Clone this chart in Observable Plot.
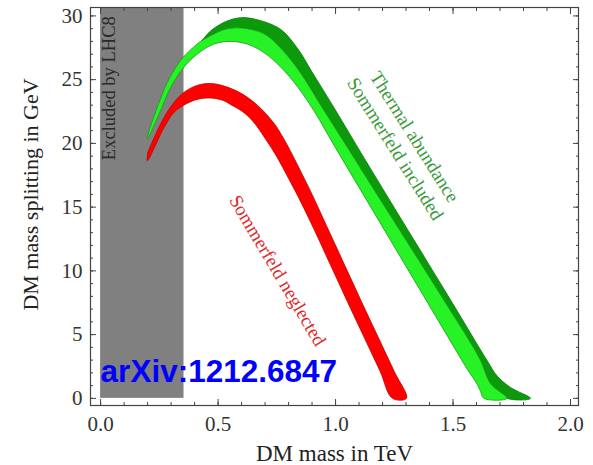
<!DOCTYPE html>
<html><head><meta charset="utf-8">
<script src="https://cdn.jsdelivr.net/npm/d3@7"></script>
<script src="https://cdn.jsdelivr.net/npm/@observablehq/plot@0.6"></script>
<style>
html,body{margin:0;padding:0;background:#fff;}
svg{display:block;}
</style></head><body><div id="chart"></div>
<script>
// ---- axes ----
const xDomain = [-0.043, 2.034];
const yDomain = [-0.56, 30.66];
const xTicks = [0, 0.5, 1.0, 1.5, 2.0];
const xMinorTicks = d3.range(0, 21).map(i => i / 10);
const yTicks = [0, 5, 10, 15, 20, 25, 30];
const yMinorTicks = d3.range(0, 31);
const xLabel = "DM mass in TeV";
const yLabel = "DM mass splitting in GeV";

// ---- LHC8 exclusion (TeV) ----
const lhcExcluded = [0, 0.355];

// ---- red band: Sommerfeld neglected ----
const redOuterX = [0.201, 0.234, 0.269, 0.312, 0.354, 0.411, 0.468, 0.525, 0.596, 0.667, 0.737, 0.78, 0.837, 0.90, 0.97, 1.04, 1.11, 1.18, 1.25, 1.302];
const redOuterY = [19.3, 20.7, 22.0, 23.2, 24.0, 24.55, 24.7, 24.5, 23.95, 23.0, 21.6, 20.35, 18.35, 16.0, 13.2, 10.4, 7.6, 4.85, 2.1, 0];
const redInnerX = [0.199, 0.27, 0.312, 0.354, 0.411, 0.468, 0.525, 0.553, 0.60, 0.645, 0.70, 0.75, 0.80, 0.84, 0.91, 0.98, 1.05, 1.12, 1.19, 1.242];
const redInnerY = [18.64, 21.25, 22.43, 23.0, 23.45, 23.56, 23.35, 23.05, 22.55, 21.8, 20.4, 18.95, 17.25, 15.85, 13.2, 10.4, 7.6, 4.85, 2.1, 0];

// ---- green band: thermal abundance, Sommerfeld included ----
const greenInnerX = [0.199, 0.255, 0.298, 0.354, 0.411, 0.482, 0.553, 0.624, 0.695, 0.766, 0.84, 0.91, 0.97, 1.007, 1.10, 1.20, 1.30, 1.40, 1.50, 1.56, 1.603, 1.617, 1.631];
const greenInnerY = [20.34, 22.56, 24.39, 25.96, 27.0, 27.79, 28.0, 27.79, 27.13, 26.0, 24.4, 22.5, 20.6, 19.43, 16.55, 13.45, 10.35, 7.25, 4.15, 2.3, 1.1, 0.55, 0];
const greenMidX = [0.206, 0.241, 0.284, 0.34, 0.411, 0.43, 0.468, 0.53, 0.60, 0.695, 0.77, 0.85, 0.95, 1.05, 1.20, 1.35, 1.50, 1.56, 1.617, 1.66, 1.73];
const greenMidY = [21.0, 22.82, 24.78, 26.5, 27.8, 28.05, 28.44, 28.95, 29.05, 28.6, 27.4, 25.55, 22.6, 19.7, 15.3, 10.95, 6.55, 4.8, 2.97, 1.14, 0];
const greenOuterX = [0.43, 0.47, 0.51, 0.553, 0.61, 0.695, 0.77, 0.84, 0.90, 1.0, 1.12, 1.25, 1.362, 1.50, 1.645, 1.688, 1.745, 1.83];
const greenOuterY = [28.05, 28.85, 29.35, 29.7, 29.87, 29.55, 28.9, 27.4, 25.6, 22.6, 18.9, 14.95, 11.57, 7.4, 2.97, 1.75, 0.85, 0];

// ---- annotations ----
const lhcText = "Excluded by LHC8";
const redText = "Sommerfeld neglected";
const greenText = "Thermal abundance\nSommerfeld included";
const arxivText = "arXiv:1212.6847";

// build closed polygon: edge A left->right, then edge B right->left
function polygon(ax, ay, bx, by) {
  const pts = ax.map((x, i) => ({x, y: ay[i]}));
  for (let i = bx.length - 1; i >= 0; i--) pts.push({x: bx[i], y: by[i]});
  pts.push(pts[0]);
  return pts;
}
const redPoly = polygon(redOuterX, redOuterY, redInnerX, redInnerY);
const midStart = greenMidX.indexOf(greenOuterX[0]);
const darkPoly = polygon(greenOuterX, greenOuterY, greenMidX.slice(midStart), greenMidY.slice(midStart));
const lightPoly = polygon(greenMidX, greenMidY, greenInnerX, greenInnerY);

const serif = "Liberation Serif, Times New Roman, serif";
const axisColor = "#444";

const chart = Plot.plot({
  width: 593,
  height: 465,
  marginLeft: 90,
  marginRight: 15,
  marginTop: 7,
  marginBottom: 60,
  style: {fontFamily: serif, background: "#fff", color: "#333"},
  x: {domain: xDomain, axis: null},
  y: {domain: yDomain, axis: null},
  marks: [
    Plot.rect([lhcExcluded], {x1: d => d[0], x2: d => d[1], y1: 0, y2: yDomain[1], fill: "#808080"}),
    Plot.text([lhcText], {x: 0.038, y: 24.33, rotate: -90, fontSize: 18.5, fill: "#2a2a2a", fontFamily: serif}),
    Plot.line(redPoly, {x: "x", y: "y", fill: "#ff0000", stroke: "#c00000", strokeWidth: 0.8, curve: "catmull-rom"}),
    Plot.line(darkPoly, {x: "x", y: "y", fill: "#0c9a0c", stroke: "#087a08", strokeWidth: 0.8, curve: "catmull-rom"}),
    Plot.line(lightPoly, {x: "x", y: "y", fill: "#26f226", stroke: "#12a012", strokeWidth: 0.8, curve: "catmull-rom"}),
    Plot.text([redText], {x: 0.753, y: 10.02, rotate: 59.4, fontSize: 19, fill: "#dc2a2a", fontFamily: serif}),
    Plot.text([greenText], {x: 1.299, y: 20.08, rotate: 57.9, fontSize: 19, lineHeight: 1.2, fill: "#3a9a3a", fontFamily: serif}),
    Plot.text([arxivText], {x: 0, y: 1.27, textAnchor: "start", lineAnchor: "bottom", fontSize: 31.5, fontWeight: "bold", fontFamily: "Liberation Sans, Arial, sans-serif", fill: "#0000ff"}),
    // ticks (inward) on all four sides
    Plot.axisX({anchor: "bottom", ticks: xMinorTicks, tickSize: -3, fill: "none", label: null, stroke: axisColor}),
    Plot.axisX({anchor: "bottom", ticks: xTicks, tickSize: -6, fill: "none", label: null, stroke: axisColor}),
    Plot.axisX({anchor: "top", ticks: xMinorTicks, tickSize: -3, fill: "none", label: null, stroke: axisColor}),
    Plot.axisX({anchor: "top", ticks: xTicks, tickSize: -6, fill: "none", label: null, stroke: axisColor}),
    Plot.axisY({anchor: "left", ticks: yMinorTicks, tickSize: -3, fill: "none", label: null, stroke: axisColor}),
    Plot.axisY({anchor: "left", ticks: yTicks, tickSize: -6, fill: "none", label: null, stroke: axisColor}),
    Plot.axisY({anchor: "right", ticks: yMinorTicks, tickSize: -3, fill: "none", label: null, stroke: axisColor}),
    Plot.axisY({anchor: "right", ticks: yTicks, tickSize: -6, fill: "none", label: null, stroke: axisColor}),
    // tick labels
    Plot.axisX({anchor: "bottom", ticks: xTicks, tickSize: 0, tickPadding: 11, tickFormat: d3.format(".1f"), label: null, fontSize: 21, fill: "#333"}),
    Plot.axisY({anchor: "left", ticks: yTicks, tickSize: 0, tickPadding: 8, tickFormat: d3.format("d"), label: null, fontSize: 21, fill: "#333"}),
    // axis titles
    Plot.text([xLabel], {frameAnchor: "bottom", textAnchor: "middle", dy: 55, lineAnchor: "bottom", fontSize: 23, fill: "#222", fontFamily: serif}),
    Plot.text([yLabel], {frameAnchor: "left", textAnchor: "middle", rotate: -90, dx: -60, dy: -12, fontSize: 22, fill: "#222", fontFamily: serif}),
    Plot.frame({stroke: axisColor, strokeWidth: 1.2})
  ]
});
document.getElementById("chart").appendChild(chart);
</script>
</body></html>
